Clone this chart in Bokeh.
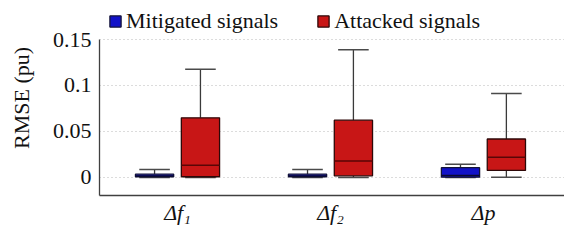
from bokeh.plotting import figure
from bokeh.models import Legend, LegendItem, FixedTicker, ColumnDataSource, Range1d
from bokeh.embed import file_html
from bokeh.resources import INLINE

# ---- data ----
categories = ["Δf₁", "Δf₂", "Δp"]
y_ticks = [0, 0.05, 0.1, 0.15]
y_tick_labels = ["0", "0.05", "0.1", "0.15"]

mit_low = [0.0, 0.0, 0.0]
mit_q1 = [0.0008, 0.0008, 0.0003]
mit_med = [0.0015, 0.0015, 0.0022]
mit_q3 = [0.0036, 0.0036, 0.0106]
mit_high = [0.0088, 0.0088, 0.0143]

att_low = [0.0, 0.0, 0.0003]
att_q1 = [0.0008, 0.0018, 0.0077]
att_med = [0.0132, 0.018, 0.022]
att_q3 = [0.0648, 0.0623, 0.0418]
att_high = [0.1176, 0.1388, 0.0912]

FONT = "Liberation Serif"
FS = "22px"
BOX_W = 0.25
CAP_W = 0.2
OFF = 0.15
Y_MIN, Y_MAX = -0.0196, 0.15

p = figure(width=564, height=230, output_backend="svg", toolbar_location=None,
           x_range=Range1d(0.49, 3.53), y_range=Range1d(Y_MIN, 0.1924),
           min_border_left=99, min_border_right=0, min_border_top=0, min_border_bottom=35)
p.outline_line_color = None
p.background_fill_color = "white"
p.xgrid.grid_line_color = None
p.ygrid.grid_line_color = "#b8b8b8"
p.ygrid.grid_line_dash = "1 3"
p.ygrid.grid_line_width = 1.2

def series(low, q1, med, q3, high, offset, fill, edge, median_color):
    xs = [i + 1 + offset for i in range(len(categories))]
    src = ColumnDataSource(dict(x=xs, low=low, q1=q1, med=med, q3=q3, high=high,
                                cl=[x - CAP_W / 2 for x in xs], cr=[x + CAP_W / 2 for x in xs],
                                bl=[x - BOX_W / 2 for x in xs], br=[x + BOX_W / 2 for x in xs]))
    p.segment(x0="x", y0="q3", x1="x", y1="high", source=src, line_color="#3a3a3a", line_width=1.3)
    p.segment(x0="x", y0="low", x1="x", y1="q1", source=src, line_color="#3a3a3a", line_width=1.3)
    p.segment(x0="cl", y0="high", x1="cr", y1="high", source=src, line_color="#4a4a4a", line_width=1.5)
    p.segment(x0="cl", y0="low", x1="cr", y1="low", source=src, line_color="#4a4a4a", line_width=1.5)
    r = p.vbar(x="x", width=BOX_W, top="q3", bottom="q1", source=src,
               fill_color=fill, line_color=edge, line_width=1.3)
    p.segment(x0="bl", y0="med", x1="br", y1="med", source=src, line_color=median_color, line_width=1.5)
    return r

r_mit = series(mit_low, mit_q1, mit_med, mit_q3, mit_high, -OFF, "#1212c8", "#14143a", "#0a0a30")
r_att = series(att_low, att_q1, att_med, att_q3, att_high, OFF, "#c81616", "#2e0808", "#5a0606")

# axes
p.yaxis.ticker = FixedTicker(ticks=y_ticks)
p.yaxis.major_label_overrides = {t: l for t, l in zip(y_ticks, y_tick_labels)}
p.yaxis.bounds = (Y_MIN, Y_MAX)
p.xaxis.ticker = FixedTicker(ticks=[1, 2, 3])
p.xaxis.major_label_overrides = {i + 1: c for i, c in enumerate(categories)}
for ax in (p.xaxis[0], p.yaxis[0]):
    ax.major_tick_line_color = None
    ax.minor_tick_line_color = None
    ax.major_tick_out = 0
    ax.major_tick_in = 0
    ax.axis_line_color = "#404040"
    ax.axis_line_width = 1.3
    ax.major_label_text_font = FONT
    ax.major_label_text_font_size = FS
    ax.major_label_text_color = "#111111"
p.yaxis.major_label_standoff = 8
p.xaxis.major_label_standoff = 4
p.xaxis.major_label_text_font_style = "italic"
p.yaxis.axis_label = "RMSE (pu)"
p.yaxis.axis_label_text_font = FONT
p.yaxis.axis_label_text_font_size = FS
p.yaxis.axis_label_text_font_style = "normal"
p.yaxis.axis_label_text_color = "#111111"
p.yaxis.axis_label_standoff = 16

legend = Legend(items=[LegendItem(label="Mitigated signals", renderers=[r_mit]),
                       LegendItem(label="Attacked signals", renderers=[r_att])],
                orientation="horizontal", location=(9, 161), padding=0, margin=0,
                spacing=38, label_standoff=4, glyph_width=14, glyph_height=14,
                border_line_color=None, background_fill_alpha=0,
                label_text_font=FONT, label_text_font_size=FS, label_text_color="#111111")
p.add_layout(legend, "center")

open("out.html", "w").write(file_html(p, INLINE))
